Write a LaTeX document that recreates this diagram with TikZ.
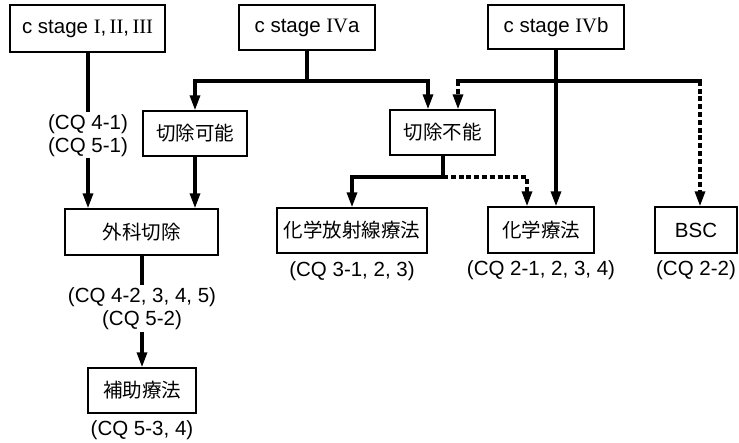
\documentclass[tikz,border=0pt]{standalone}
\usepackage{fontspec}
\setmainfont{Liberation Sans}
\newfontfamily\jp{Noto Sans CJK JP}
\newfontfamily\rn{Liberation Serif}
\usetikzlibrary{arrows.meta}
\begin{document}
\begin{tikzpicture}[x=1pt,y=-1pt,
  box/.style={draw,line width=1.4pt,inner sep=0pt,font=\fontsize{20.5}{22}\selectfont},
  jbox/.style={box,font=\fontsize{19.5}{22}\selectfont\jp},
  lab/.style={inner sep=0pt,font=\fontsize{20.5}{23}\selectfont,align=center},
  solidln/.style={line width=3.2pt},
  dashln/.style={line width=3.2pt,dash pattern=on 5pt off 2.8pt},
  tip/.style={-{Triangle[length=15pt,width=10pt]}}]
\useasboundingbox[fill=white] (0,0) rectangle (739,443);
% boxes
\node[box,minimum width=155pt,minimum height=47pt] (s1) at (87.5,28.5) {c stage {\rn I},\,{\rn II},\,{\rn III}};
\node[box,minimum width=136pt,minimum height=45pt] (s4a) at (307,27.5) {c stage {\rn IV}a};
\node[box,minimum width=136pt,minimum height=44pt] (s4b) at (556,27) {c stage {\rn IV}b};
\node[jbox,minimum width=104pt,minimum height=45pt] (kanou) at (195,133.5) {切除可能};
\node[jbox,minimum width=105pt,minimum height=45pt] (funou) at (442.5,132.5) {切除不能};
\node[jbox,minimum width=153pt,minimum height=46pt] (geka) at (141.5,232) {外科切除};
\node[jbox,minimum width=108pt,minimum height=45pt] (hojo) at (142,390.5) {補助療法};
\node[jbox,minimum width=150pt,minimum height=45pt] (kahou) at (352,230.5) {化学放射線療法};
\node[jbox,minimum width=106pt,minimum height=46pt] (kagaku) at (541,230) {化学療法};
\node[box,minimum width=82pt,minimum height=46pt] (bsc) at (696,230) {BSC};
% labels
\node[lab] (cq1) at (88,136) {(CQ 4-1)\\(CQ 5-1)};
\node[lab] (cq2) at (142,308.5) {(CQ 4-2, 3, 4, 5)\\(CQ 5-2)};
\node[lab] (cq3) at (142,430) {(CQ 5-3, 4)};
\node[lab] (cq4) at (352,271) {(CQ 3-1, 2, 3)};
\node[lab] (cq5) at (541,270) {(CQ 2-1, 2, 3, 4)};
\node[lab] (cq6) at (696,270) {(CQ 2-2)};
% junction coordinates
\coordinate (jA) at (307,81);
\coordinate (jL) at (195,81);
\coordinate (jR) at (428,81);
\coordinate (dL) at (458,81);
\coordinate (dR) at (700,81);
\coordinate (jB) at (443,177);
\coordinate (bL) at (352,177);
\coordinate (bR) at (527,177);
\coordinate (c1a) at (88,112);
\coordinate (c1b) at (88,158);
\coordinate (c2a) at (142,285);
\coordinate (c2b) at (142,332);
% solid connectors
\draw[solidln] (s1.south -| c1a) -- (c1a);
\draw[solidln,tip] (c1b) -- (c1b |- geka.north);
\draw[solidln] (s4a.south) -- (jA);
\draw[solidln,tip] (jA) -- (jL) -- (jL |- kanou.north);
\draw[solidln,tip] (jA) -- (jR) -- (jR |- funou.north);
\draw[solidln,tip] (kanou.south) -- (kanou.south |- geka.north);
\draw[solidln] (geka.south -| c2a) -- (c2a);
\draw[solidln,tip] (c2b) -- (hojo.north);
\draw[solidln] (funou.south -| jB) -- (jB);
\draw[solidln,tip] (jB) -- (bL) -- (kahou.north);
\draw[solidln,tip] (s4b.south) -- (s4b.south |- kagaku.north);
% dashed connectors
\draw[dashln,tip] (dR) -- (dL) -- (dL |- funou.north);
\draw[dashln,tip] (dL) -- (dR) -- (dR |- bsc.north);
\draw[dashln,tip] (jB) -- (bR) -- (bR |- kagaku.north);
\end{tikzpicture}
\end{document}
